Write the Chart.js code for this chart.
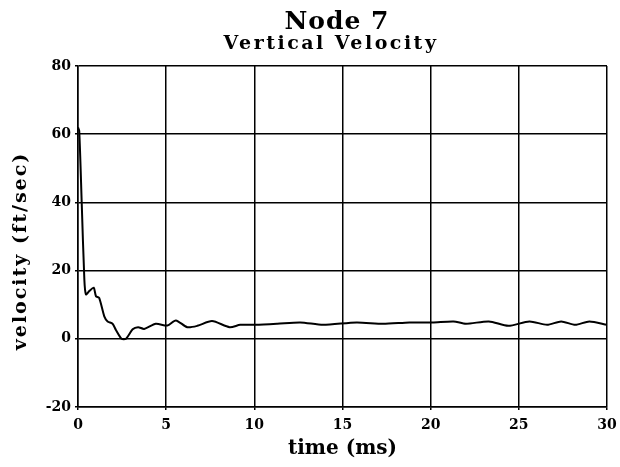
<!DOCTYPE html>
<html>
<head>
<meta charset="utf-8">
<script src="https://cdn.jsdelivr.net/npm/chart.js"></script>
<style>
  html, body { margin: 0; padding: 0; background: #fff; }
  canvas { display: block; }
</style>
</head>
<body>
<canvas id="chart" width="620" height="467"></canvas>
<script>
// 데이터
const timeMs = [0, 0.07, 0.21, 0.36, 0.45, 0.64, 0.89, 1.02, 1.2, 1.49, 1.68, 1.96, 2.15, 2.47, 2.72,
  3.1, 3.41, 3.75, 4.41, 5.07, 5.55, 6.2, 6.77, 7.6, 8.6, 9.2, 10.07, 11.3, 12.6, 13.9, 15.8,
  17.3, 18.8, 20.1, 21.3, 22, 23.3, 24.4, 25.6, 26.6, 27.4, 28.2, 29, 30];
const velocity = [62, 61, 40, 17.4, 13, 14, 15, 12.5, 12, 6.6, 5.1, 4.4, 2.6, 0, 0,
  2.8, 3.4, 2.9, 4.4, 3.9, 5.4, 3.4, 3.8, 5.2, 3.4, 4.1, 4.1, 4.4, 4.8, 4.1, 4.8,
  4.4, 4.8, 4.8, 5.1, 4.4, 5.1, 3.8, 5.1, 4.1, 5.1, 4.1, 5.1, 4.1];
const xTicks = [0, 5, 10, 15, 20, 25, 30];
const yTicks = [-20, 0, 20, 40, 60, 80];

const titleText = 'Node 7';
const subtitleText = 'Vertical Velocity';
const yTitleText = 'velocity (ft/sec)';
const serif = '"DejaVu Serif", "Liberation Serif", serif';

// 제목과 세로축 제목 그리기
const titlePlugin = {
  id: 'nodeTitle',
  afterDraw(chart) {
    const ctx = chart.ctx;
    ctx.save();
    ctx.fillStyle = '#000';
    ctx.textAlign = 'center';
    ctx.textBaseline = 'alphabetic';
    ctx.letterSpacing = '1px';
    ctx.font = 'bold 25px ' + serif;
    ctx.fillText(titleText, 337, 29);
    ctx.letterSpacing = '2.5px';
    ctx.font = 'bold 19px ' + serif;
    ctx.fillText(subtitleText, 331, 49);

    ctx.translate(21, 251);
    ctx.rotate(-Math.PI / 2);
    ctx.textBaseline = 'middle';
    ctx.letterSpacing = '2px';
    ctx.font = 'bold 19px ' + serif;
    ctx.fillText(yTitleText, 0, 0);
    ctx.restore();
  }
};

const points = timeMs.map((t, i) => ({ x: t, y: velocity[i] }));

new Chart(document.getElementById('chart'), {
  type: 'line',
  data: {
    datasets: [{
      data: points,
      borderColor: '#000',
      borderWidth: 2,
      pointRadius: 0,
      tension: 0.25,
      fill: false
    }]
  },
  options: {
    responsive: false,
    animation: false,
    layout: { padding: { top: 66, right: 13, left: 0, bottom: 0 } },
    plugins: {
      legend: { display: false },
      tooltip: { enabled: false }
    },
    scales: {
      x: {
        type: 'linear',
        min: 0,
        max: 30,
        afterBuildTicks(scale) { scale.ticks = xTicks.map(v => ({ value: v })); },
        afterFit(scale) {
          scale.height = 60;
          scale.paddingLeft = 0;
          scale.paddingRight = 0;
        },
        grid: { color: '#000', lineWidth: 1.5, tickLength: 3 },
        border: { color: '#000', width: 1.5 },
        ticks: {
          color: '#000',
          padding: 7,
          maxRotation: 0,
          font: { family: serif, weight: 'bold', size: 14 }
        },
        title: {
          display: true,
          text: 'time (ms)',
          color: '#000',
          padding: { top: 6, bottom: 6 },
          font: { family: serif, weight: 'bold', size: 20 }
        }
      },
      y: {
        min: -20,
        max: 80,
        afterBuildTicks(scale) { scale.ticks = yTicks.map(v => ({ value: v })); },
        afterFit(scale) { scale.width = 78; },
        grid: { color: '#000', lineWidth: 1.5, tickLength: 3 },
        border: { color: '#000', width: 1.5 },
        ticks: {
          color: '#000',
          padding: 4,
          font: { family: serif, weight: 'bold', size: 14 }
        }
      }
    }
  },
  plugins: [titlePlugin]
});
</script>
</body>
</html>
